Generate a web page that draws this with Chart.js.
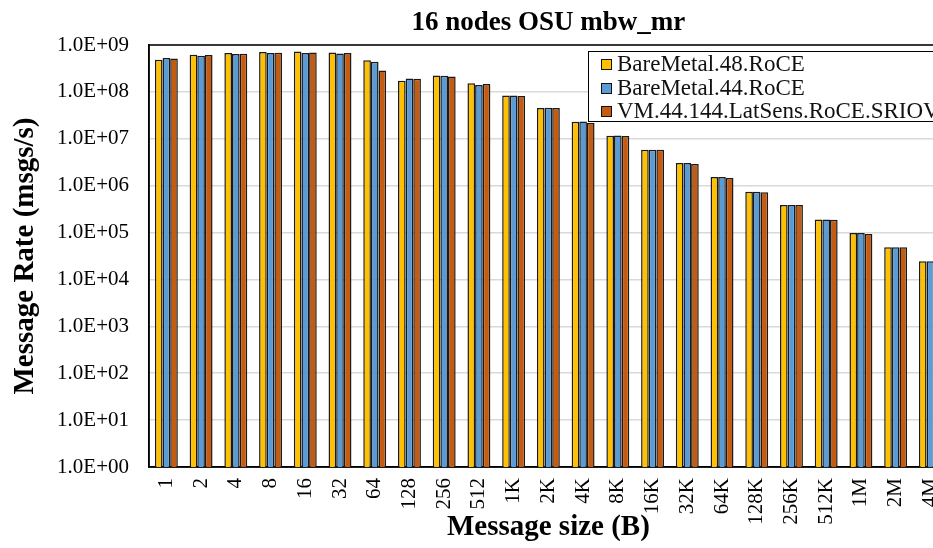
<!DOCTYPE html>
<html>
<head>
<meta charset="utf-8">
<script src="https://cdn.jsdelivr.net/npm/chart.js@4"></script>
<style>
  html, body { margin: 0; padding: 0; background: #fff; overflow: hidden; }
  #wrap { position: relative; width: 933px; height: 548px; overflow: hidden; }
  #chart { position: absolute; left: 0; top: 0; }
  #legend {
    position: absolute; left: 588px; top: 51px; width: 420px; height: 69px;
    border: 1.5px solid #000; background: #fff;
    font-family: "Liberation Serif", serif; font-size: 23px; color: #111;
  }
  #legend div { position: absolute; left: 12px; height: 23px; line-height: 23px; white-space: nowrap; }
  #legend span { display: inline-block; width: 9px; height: 9px; border: 1px solid #111; margin-right: 5px; vertical-align: 1px; }
</style>
</head>
<body>
<div id="wrap">
  <canvas id="chart" width="967" height="548"></canvas>
  <div id="legend"></div>
</div>
<script>
const sizes = ["1", "2", "4", "8", "16", "32", "64", "128", "256", "512", "1K", "2K", "4K", "8K",
  "16K", "32K", "64K", "128K", "256K", "512K", "1M", "2M", "4M"];

const bm48 = [4.86e8, 6.21e8, 6.75e8, 7.09e8, 7.31e8, 6.95e8, 4.70e8, 1.73e8, 2.25e8, 1.52e8, 8.41e7, 4.54e7,
  2.32e7, 1.16e7, 5.86e6, 3.05e6, 1.53e6, 7.45e5, 3.87e5, 1.91e5, 9.8e4, 4.83e4, 2.43e4];
const bm44 = [5.28e8, 5.92e8, 6.43e8, 6.75e8, 6.75e8, 6.62e8, 4.41e8, 1.94e8, 2.21e8, 1.40e8, 8.41e7, 4.61e7,
  2.35e7, 1.18e7, 5.86e6, 3.05e6, 1.53e6, 7.45e5, 3.87e5, 1.91e5, 9.8e4, 4.83e4, 2.43e4];
const vm44 = [5.18e8, 6.12e8, 6.52e8, 6.85e8, 6.95e8, 6.75e8, 2.87e8, 1.91e8, 2.14e8, 1.47e8, 8.18e7, 4.54e7,
  2.17e7, 1.15e7, 5.86e6, 2.90e6, 1.46e6, 7.2e5, 3.87e5, 1.88e5, 9.33e4, 4.83e4, 2.4e4];

const seriesNames = ["BareMetal.48.RoCE", "BareMetal.44.RoCE", "VM.44.144.LatSens.RoCE.SRIOV"];
const seriesColors = ["#FFC000", "#5B9BD5", "#C55A11"];

const yTickValues = [1e0, 1e1, 1e2, 1e3, 1e4, 1e5, 1e6, 1e7, 1e8, 1e9];
const yTickLabels = ["1.0E+00", "1.0E+01", "1.0E+02", "1.0E+03", "1.0E+04", "1.0E+05",
  "1.0E+06", "1.0E+07", "1.0E+08", "1.0E+09"];

// legend drawn as html, sits inside the plot at top right
const legend = document.getElementById("legend");
seriesNames.forEach((name, i) => {
    const row = document.createElement("div");
    row.style.top = (i * 23.5) + "px";
    row.innerHTML = `<span style="background:${seriesColors[i]}"></span>${name}`;
    legend.appendChild(row);
});

const serif = "'Liberation Serif', 'Times New Roman', serif";

// black frame round the plot area
const frame = {
    id: "frame",
    beforeDatasetsDraw(chart) {
        const { ctx, chartArea: a } = chart;
        ctx.save();
        ctx.strokeStyle = "#000";
        ctx.lineWidth = 1.5;
        ctx.strokeRect(a.left, a.top, a.right - a.left, a.bottom - a.top);
        ctx.restore();
    }
};

Chart.defaults.font.family = serif;
Chart.defaults.color = "#000";

new Chart(document.getElementById("chart"), {
    type: "bar",
    data: {
        labels: sizes,
        datasets: [bm48, bm44, vm44].map((d, i) => ({
            label: seriesNames[i],
            data: d,
            backgroundColor: seriesColors[i],
            borderColor: "#1a1a1a",
            borderWidth: 1.5,
            barPercentage: 1.0,
            categoryPercentage: 0.66,
        })),
    },
    options: {
        responsive: false,
        animation: false,
        devicePixelRatio: 1,
        layout: { padding: { left: 0, right: 11, top: 0, bottom: 0 } },
        plugins: {
            legend: { display: false },
            tooltip: { enabled: false },
            title: {
                display: true,
                text: "16 nodes OSU mbw_mr",
                fullSize: false,
                color: "#000",
                font: { family: serif, size: 27, weight: "bold" },
                padding: { top: 7, bottom: 5.6 },
            },
        },
        scales: {
            x: {
                grid: { display: false, drawTicks: false },
                border: { display: true, color: "#000", width: 1.5 },
                ticks: {
                    autoSkip: false,
                    minRotation: 90,
                    maxRotation: 90,
                    padding: 11,
                    font: { size: 21 },
                },
                title: {
                    display: true,
                    text: "Message size (B)",
                    font: { size: 29, weight: "bold" },
                    padding: { top: 0, bottom: 3 },
                },
                afterFit(scale) { scale.height = 81; },
            },
            y: {
                type: "logarithmic",
                min: 1,
                max: 1e9,
                grid: { color: "#d9d9d9", lineWidth: 1.5, drawTicks: false },
                border: { display: true, color: "#000", width: 1.5 },
                afterBuildTicks(scale) {
                    scale.ticks = yTickValues.map((v) => ({ value: v }));
                },
                ticks: {
                    padding: 20,
                    font: { size: 21 },
                    callback: (value, index) => yTickLabels[index],
                },
                title: {
                    display: true,
                    text: "Message Rate (msgs/s)",
                    font: { size: 29, weight: "bold" },
                    padding: { top: 8, bottom: 0 },
                },
                afterFit(scale) { scale.width = 149; },
            },
        },
    },
    plugins: [frame],
});
</script>
</body>
</html>
